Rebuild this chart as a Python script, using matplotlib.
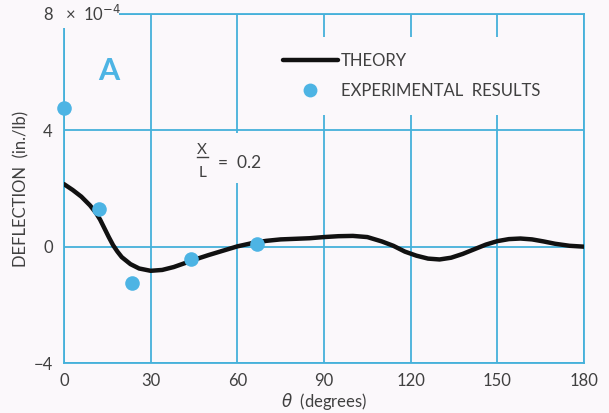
import matplotlib
matplotlib.use("Agg")
import matplotlib.pyplot as plt
from matplotlib.patches import Rectangle
from matplotlib.lines import Line2D

# ---- data ----
theory_theta = [0, 3, 6, 9, 11, 12.5, 14, 15.5, 17, 18.5, 20, 23, 26, 30, 34, 38, 42,
                46, 50, 55, 60, 65, 70, 75, 80, 85, 90, 95, 100, 105, 110, 114, 118,
                122, 126, 130, 134, 138, 142, 146, 150, 154, 158, 162, 166, 170,
                175, 180]
theory_defl = [2.15, 1.95, 1.72, 1.42, 1.17, 0.93, 0.63, 0.33, 0.05, -0.17, -0.36,
               -0.60, -0.75, -0.83, -0.80, -0.70, -0.56, -0.42, -0.29, -0.14, 0.01,
               0.12, 0.20, 0.25, 0.27, 0.29, 0.33, 0.36, 0.37, 0.33, 0.18, 0.03,
               -0.17, -0.31, -0.41, -0.44, -0.38, -0.25, -0.09, 0.07, 0.19, 0.26,
               0.28, 0.25, 0.18, 0.10, 0.03, 0.0]
exp_theta = [0, 12.1, 23.4, 43.8, 66.7]
exp_defl = [4.76, 1.29, -1.24, -0.44, 0.08]
xticks = [0, 30, 60, 90, 120, 150, 180]
yticks = [-4, 0, 4, 8]
ytick_labels = ["\u22124", "0", "4", "8"]

BG = "#fbf8fb"
GRID = "#45b1da"
BLUE = "#4db4e4"
TXT = "#404040"

plt.rcParams['font.family'] = ['Lato', 'DejaVu Sans']

fig = plt.figure(figsize=(6.09, 4.13), dpi=100, facecolor=BG)
ax = fig.add_axes([64/609, 50/413, 520/609, 349/413])
ax.set_facecolor(BG)
ax.set_xlim(0, 180)
ax.set_ylim(-4, 8)

for s in ax.spines.values():
    s.set_color(GRID)
    s.set_linewidth(1.3)
    s.set_zorder(1)

ax.set_xticks(xticks)
ax.set_yticks(yticks)
ax.set_yticklabels(ytick_labels)
ax.tick_params(length=0, labelsize=12, colors=TXT, pad=7)
ax.tick_params(axis='y', pad=8)
ax.grid(True, color=GRID, linewidth=1.3, zorder=0)
ax.set_axisbelow(True)

# masks behind annotations
ax.add_patch(Rectangle((0.235, 0.516), 0.16, 0.143, transform=ax.transAxes,
                       facecolor=BG, edgecolor='none', zorder=1.5))
ax.add_patch(Rectangle((-0.01, 0.96), 0.115, 0.07, transform=ax.transAxes,
                       facecolor=BG, edgecolor='none', zorder=2, clip_on=False))

ax.plot(theory_theta, theory_defl, color='#111111', linewidth=3.2,
        solid_capstyle='round', solid_joinstyle='round', zorder=3, label='THEORY')
ax.plot(exp_theta, exp_defl, linestyle='none', marker='o', markersize=10.5,
        color=BLUE, markeredgewidth=0, zorder=4, clip_on=False,
        label='EXPERIMENTAL  RESULTS')

ax.text(0.2, 8, "\u00d7  10$^{-4}$", fontsize=12, color=TXT, ha='left',
        va='center', zorder=5, clip_on=False)
ax.text(15.6, 6.05, "A", fontsize=22, fontweight='bold', color=BLUE,
        ha='center', va='center', zorder=5)

# X / L = 0.2
ax.text(47.8, 3.2, "X", fontsize=11, color=TXT, ha='center', va='baseline', zorder=5)
ax.text(47.8, 2.41, "L", fontsize=11, color=TXT, ha='center', va='baseline', zorder=5)
ax.add_line(Line2D([45.9, 49.8], [3.08, 3.08], color=TXT, linewidth=1.0, zorder=5))
ax.text(53.3, 2.7, "=  0.2", fontsize=12.5, color=TXT, ha='left', va='baseline', zorder=5)

leg = ax.legend(loc='upper left', bbox_to_anchor=(0.39, 0.935), fontsize=12,
                frameon=True, facecolor=BG, edgecolor='none', framealpha=1,
                handlelength=3.3, handletextpad=0.2, labelspacing=0.85,
                borderpad=0.95, borderaxespad=0, markerscale=0.95)
leg.set_zorder(2)
for t in leg.get_texts():
    t.set_color(TXT)

ax.set_xlabel(r"$\theta$  (degrees)", fontsize=12, color=TXT, labelpad=2)
ax.set_ylabel("DEFLECTION  (in./lb)", fontsize=12, color=TXT, labelpad=3)

fig.savefig("out.png", dpi=100, facecolor=BG)
